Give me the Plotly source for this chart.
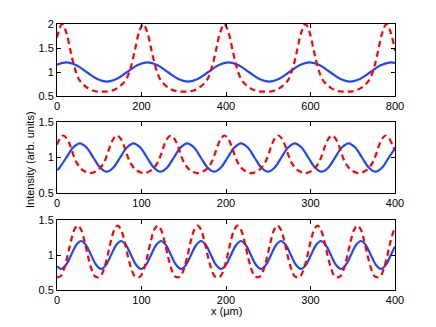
import plotly.graph_objects as go

# ---------------- data ----------------
# Panel 1 (x: 0-800)
blue1_x = [0, 22, 46, 70, 94, 118, 142, 166, 190, 214, 238, 262, 286, 310, 334, 358, 382,
           406, 430, 454, 478, 502, 526, 550, 574, 598, 622, 646, 670, 694, 718, 742, 766, 790, 800]
blue1_y = [1.15, 1.2, 1.14, 1.0, 0.86, 0.8, 0.86, 1.0, 1.14, 1.2, 1.14, 1.0, 0.86, 0.8, 0.86, 1.0, 1.14,
           1.2, 1.14, 1.0, 0.86, 0.8, 0.86, 1.0, 1.14, 1.2, 1.14, 1.0, 0.86, 0.8, 0.86, 1.0, 1.14, 1.2, 1.19]
red1_x = [0, 12, 22, 32, 42, 54, 74, 91, 108, 125, 142, 162, 174, 184, 194,
          204, 214, 224, 234, 246, 266, 283, 300, 317, 334, 354, 366, 376, 386,
          396, 406, 416, 426, 438, 458, 475, 492, 509, 526, 546, 558, 568, 578,
          588, 598, 608, 618, 630, 650, 667, 684, 701, 718, 738, 750, 760, 770,
          780, 790, 800]
red1_y = [1.72, 2.0, 1.82, 1.44, 1.08, 0.82, 0.66, 0.6, 0.59, 0.6, 0.66, 0.82, 1.08, 1.44, 1.82,
          2.0, 1.82, 1.44, 1.08, 0.82, 0.66, 0.6, 0.59, 0.6, 0.66, 0.82, 1.08, 1.44, 1.82,
          2.0, 1.82, 1.44, 1.08, 0.82, 0.66, 0.6, 0.59, 0.6, 0.66, 0.82, 1.08, 1.44, 1.82,
          2.0, 1.82, 1.44, 1.08, 0.82, 0.66, 0.6, 0.59, 0.6, 0.66, 0.82, 1.08, 1.44, 1.82,
          2.0, 1.82, 1.44]

# Panel 2 (x: 0-400)
blue2_x = [0, 3.2, 11.1, 19.1, 27.0, 35.0, 42.9, 50.9, 58.8, 66.8, 74.7, 82.7, 90.6, 98.6, 106.5,
           114.5, 122.4, 130.4, 138.3, 146.3, 154.2, 162.2, 170.1, 178.1, 186.0, 194.0, 201.9,
           209.9, 217.8, 225.8, 233.7, 241.7, 249.6, 257.6, 265.5, 273.5, 281.4, 289.4, 297.3,
           305.3, 313.2, 321.2, 329.1, 337.1, 345.0, 353.0, 360.9, 368.9, 376.8, 384.8, 392.7, 400]
blue2_y = [0.82, 0.86, 1.0, 1.14, 1.2, 1.14, 1.0, 0.86, 0.8, 0.86, 1.0, 1.14, 1.2, 1.14, 1.0,
           0.86, 0.8, 0.86, 1.0, 1.14, 1.2, 1.14, 1.0, 0.86, 0.8, 0.86, 1.0,
           1.14, 1.2, 1.14, 1.0, 0.86, 0.8, 0.86, 1.0, 1.14, 1.2, 1.14, 1.0,
           0.86, 0.8, 0.86, 1.0, 1.14, 1.2, 1.14, 1.0, 0.86, 0.8, 0.86, 1.0, 1.13]
red2_x = [0, 3.5, 7.5, 11.5, 15.5, 19.5, 23.5, 29.5, 39.3, 49.1, 55.1, 59.1, 63.1, 67.1,
          71.1, 75.1, 79.1, 83.1, 87.1, 93.1, 102.9, 112.7, 118.7, 122.7, 126.7, 130.7,
          134.7, 138.7, 142.7, 146.7, 150.7, 156.7, 166.5, 176.3, 182.3, 186.3, 190.3, 194.3,
          198.3, 202.3, 206.3, 210.3, 214.3, 220.3, 230.1, 239.9, 245.9, 249.9, 253.9, 257.9,
          261.9, 265.9, 269.9, 273.9, 277.9, 283.9, 293.7, 303.5, 309.5, 313.5, 317.5, 321.5,
          325.5, 329.5, 333.5, 337.5, 341.5, 347.5, 357.3, 367.1, 373.1, 377.1, 381.1, 385.1,
          389.1, 393.1, 397.1, 400]
red2_y = [1.18, 1.27, 1.31, 1.27, 1.17, 1.03, 0.92, 0.83, 0.78, 0.83, 0.92, 1.03, 1.17, 1.27,
          1.31, 1.27, 1.17, 1.03, 0.92, 0.83, 0.78, 0.83, 0.92, 1.03, 1.17, 1.27,
          1.31, 1.27, 1.17, 1.03, 0.92, 0.83, 0.78, 0.83, 0.92, 1.03, 1.17, 1.27,
          1.31, 1.27, 1.17, 1.03, 0.92, 0.83, 0.78, 0.83, 0.92, 1.03, 1.17, 1.27,
          1.31, 1.27, 1.17, 1.03, 0.92, 0.83, 0.78, 0.83, 0.92, 1.03, 1.17, 1.27,
          1.31, 1.27, 1.17, 1.03, 0.92, 0.83, 0.78, 0.83, 0.92, 1.03, 1.17, 1.27,
          1.31, 1.27, 1.17, 1.10]

# Panel 3 (x: 0-400)
blue3_x = [0, 4.9, 10.8, 16.7, 22.6, 28.5, 34.4, 40.3, 46.2, 52.2, 58.1, 64.0, 69.9, 75.8, 81.7,
           87.6, 93.5, 99.5, 105.4, 111.3, 117.2, 123.1, 129.0, 134.9, 140.8, 146.8, 152.7, 158.6,
           164.5, 170.4, 176.3, 182.2, 188.1, 194.1, 200.0, 205.9, 211.8, 217.7, 223.6, 229.5,
           235.4, 241.4, 247.3, 253.2, 259.1, 265.0, 270.9, 276.8, 282.7, 288.7, 294.6, 300.5,
           306.4, 312.3, 318.2, 324.1, 330.0, 336.0, 341.9, 347.8, 353.7, 359.6, 365.5, 371.4,
           377.3, 383.3, 389.2, 395.1, 400]
blue3_y = [0.84, 0.8, 0.86, 1.0, 1.14, 1.2, 1.14, 1.0, 0.86, 0.8, 0.86, 1.0, 1.14, 1.2, 1.14,
           1.0, 0.86, 0.8, 0.86, 1.0, 1.14, 1.2, 1.14, 1.0, 0.86, 0.8, 0.86, 1.0,
           1.14, 1.2, 1.14, 1.0, 0.86, 0.8, 0.86, 1.0, 1.14, 1.2, 1.14, 1.0,
           0.86, 0.8, 0.86, 1.0, 1.14, 1.2, 1.14, 1.0, 0.86, 0.8, 0.86, 1.0,
           1.14, 1.2, 1.14, 1.0, 0.86, 0.8, 0.86, 1.0, 1.14, 1.2, 1.14, 1.0,
           0.86, 0.8, 0.86, 1.0, 1.12]
red3_x = [0, 4.5, 8.5, 12.5, 16.5, 20.5, 24.5, 28.5, 32.5, 36.5, 40.5, 44.5, 48.2,
          51.8, 55.8, 59.8, 63.8, 67.8, 71.8, 75.8, 79.8, 83.8, 87.8, 91.8, 95.5,
          99.1, 103.1, 107.1, 111.1, 115.1, 119.1, 123.1, 127.1, 131.1, 135.1, 139.1, 142.8,
          146.4, 150.4, 154.4, 158.4, 162.4, 166.4, 170.4, 174.4, 178.4, 182.4, 186.4, 190.1,
          193.7, 197.7, 201.7, 205.7, 209.7, 213.7, 217.7, 221.7, 225.7, 229.7, 233.7, 237.4,
          241.0, 245.0, 249.0, 253.0, 257.0, 261.0, 265.0, 269.0, 273.0, 277.0, 281.0, 284.7,
          288.3, 292.3, 296.3, 300.3, 304.3, 308.3, 312.3, 316.3, 320.3, 324.3, 328.3, 332.0,
          335.6, 339.6, 343.6, 347.6, 351.6, 355.6, 359.6, 363.6, 367.6, 371.6, 375.6, 379.3,
          382.9, 386.9, 390.9, 394.9, 398.9, 400]
red3_y = [0.68, 0.70, 0.81, 0.99, 1.2, 1.36, 1.42, 1.36, 1.2, 0.99, 0.81, 0.70, 0.68,
          0.70, 0.81, 0.99, 1.2, 1.36, 1.42, 1.36, 1.2, 0.99, 0.81, 0.70, 0.68,
          0.70, 0.81, 0.99, 1.2, 1.36, 1.42, 1.36, 1.2, 0.99, 0.81, 0.70, 0.68,
          0.70, 0.81, 0.99, 1.2, 1.36, 1.42, 1.36, 1.2, 0.99, 0.81, 0.70, 0.68,
          0.70, 0.81, 0.99, 1.2, 1.36, 1.42, 1.36, 1.2, 0.99, 0.81, 0.70, 0.68,
          0.70, 0.81, 0.99, 1.2, 1.36, 1.42, 1.36, 1.2, 0.99, 0.81, 0.70, 0.68,
          0.70, 0.81, 0.99, 1.2, 1.36, 1.42, 1.36, 1.2, 0.99, 0.81, 0.70, 0.68,
          0.70, 0.81, 0.99, 1.2, 1.36, 1.42, 1.36, 1.2, 0.99, 0.81, 0.70, 0.68,
          0.70, 0.81, 0.99, 1.2, 1.36, 1.38]

x_ticks_1 = [0, 200, 400, 600, 800]
x_ticks_23 = [0, 100, 200, 300, 400]
y_ticks_1 = [0.5, 1, 1.5, 2]
y_ticks_23 = [0.5, 1, 1.5]
y_label = "Intensity (arb. units)"
x_label = "x (μm)"

# ---------------- figure ----------------
W, H = 436, 327
BLUE = "#1f45ff"
RED = "#ff0000"
FONT = "Liberation Sans, Arial, Helvetica, sans-serif"

fig = go.Figure()

panels = [
    (blue1_x, blue1_y, red1_x, red1_y, "x", "y"),
    (blue2_x, blue2_y, red2_x, red2_y, "x2", "y2"),
    (blue3_x, blue3_y, red3_x, red3_y, "x3", "y3"),
]
for bx, by, rx, ry, xa, ya in panels:
    fig.add_trace(go.Scatter(x=bx, y=by, mode="lines", xaxis=xa, yaxis=ya,
                             line=dict(color=BLUE, width=2.2, shape="spline"),
                             showlegend=False, hoverinfo="skip"))
    fig.add_trace(go.Scatter(x=rx, y=ry, mode="lines", xaxis=xa, yaxis=ya,
                             line=dict(color=RED, width=2.2, shape="spline", dash="6px,4px"),
                             showlegend=False, hoverinfo="skip"))

x0, x1 = 57 / W, 395 / W
doms = [(24, 96), (122, 193), (220, 290)]

def ax_common():
    return dict(showline=True, linecolor="black", linewidth=1, mirror="ticks",
                ticks="inside", ticklen=4, tickwidth=1, tickcolor="black",
                showgrid=False, zeroline=False, fixedrange=True,
                tickfont=dict(family=FONT, size=11, color="black"))

layout = dict(width=W, height=H, margin=dict(l=0, r=0, t=0, b=0, autoexpand=False),
              paper_bgcolor="white", plot_bgcolor="white", showlegend=False)
xranges = [[0, 800], [0, 400], [0, 400]]
yranges = [[0.5, 2], [0.5, 1.5], [0.5, 1.5]]
xtv = [x_ticks_1, x_ticks_23, x_ticks_23]
ytv = [y_ticks_1, y_ticks_23, y_ticks_23]
for i in range(3):
    sfx = "" if i == 0 else str(i + 1)
    top, bot = doms[i]
    xa = ax_common()
    xa.update(domain=[x0, x1], range=xranges[i], tickvals=xtv[i],
              ticktext=[str(v) for v in xtv[i]], anchor="y" + sfx, ticklabelstandoff=0)
    ya = ax_common()
    ya.update(domain=[1 - bot / H, 1 - top / H], range=yranges[i], tickvals=ytv[i],
              ticktext=[("%g" % v) for v in ytv[i]], anchor="x" + sfx)
    layout["xaxis" + sfx] = xa
    layout["yaxis" + sfx] = ya

layout["annotations"] = [
    dict(text=y_label, x=30 / W, y=1 - 160 / H, xref="paper", yref="paper",
         textangle=-90, showarrow=False, xanchor="center", yanchor="middle",
         font=dict(family=FONT, size=11, color="black")),
    dict(text=x_label, x=226 / W, y=1 - 311 / H, xref="paper", yref="paper",
         showarrow=False, xanchor="center", yanchor="middle",
         font=dict(family=FONT, size=11, color="black")),
]
fig.update_layout(**layout)
fig.write_html("out.html", config={"displayModeBar": False, "staticPlot": True})

# remove the default page margin so the figure sits at the window's top-left corner
with open("out.html", "r", encoding="utf-8") as f:
    html = f.read()
html = html.replace("<body>", '<body style="margin:0;padding:0;">', 1)
with open("out.html", "w", encoding="utf-8") as f:
    f.write(html)
